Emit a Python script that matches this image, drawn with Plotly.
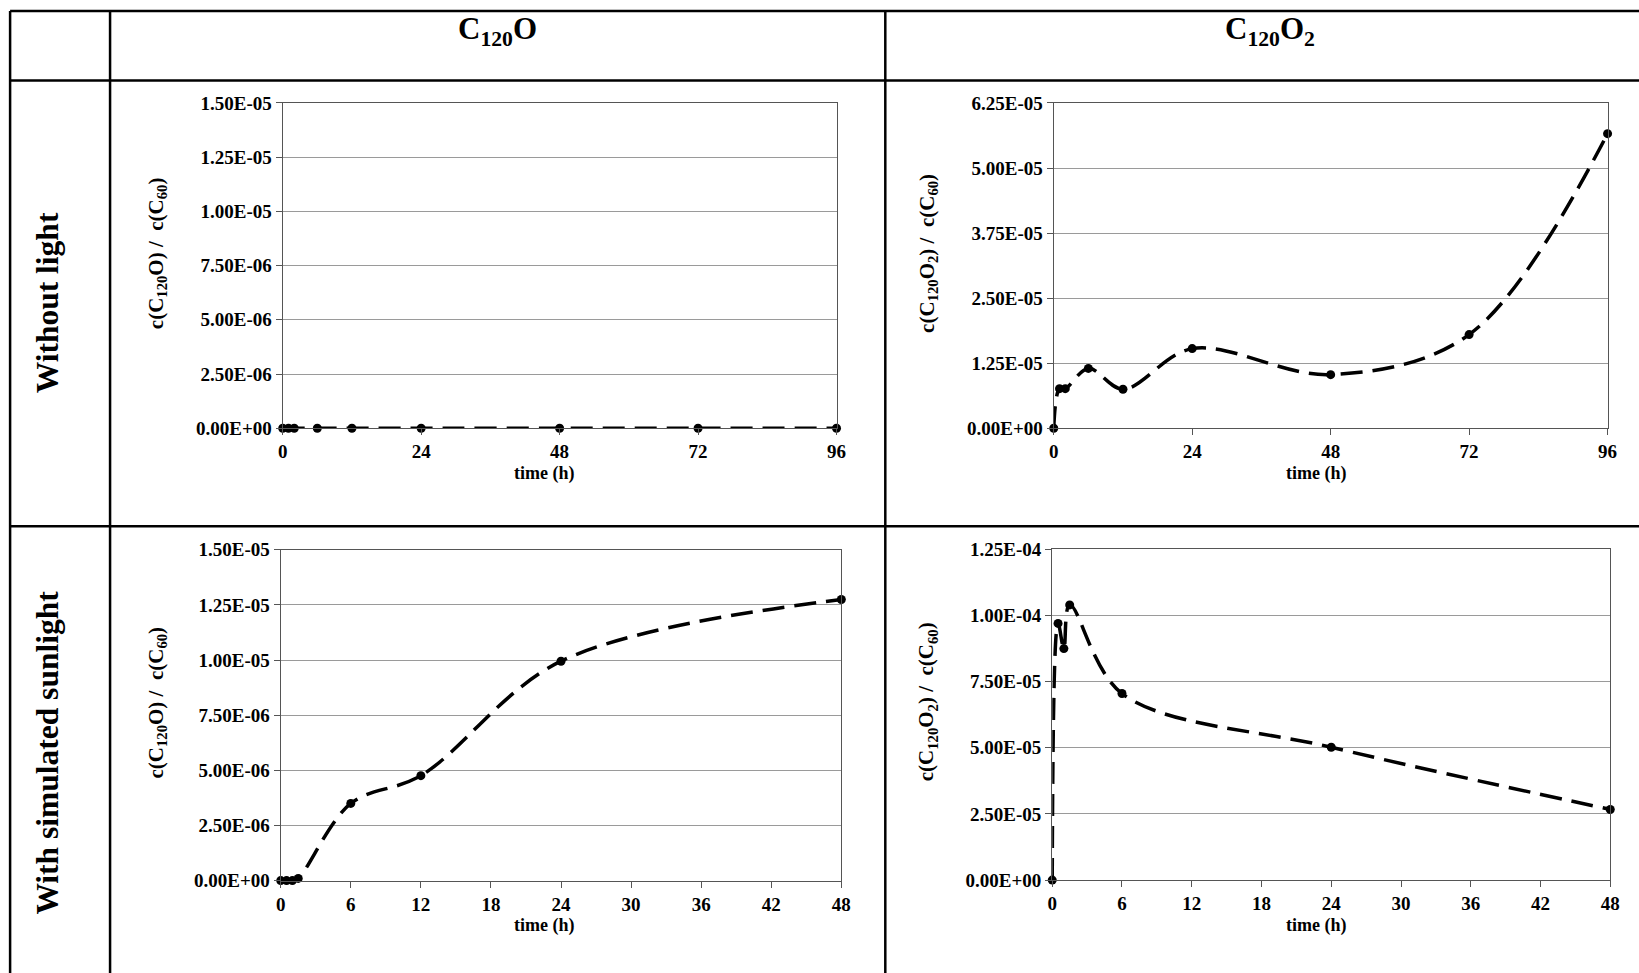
import plotly.graph_objects as go

# Figure size and a calibration of where figure pixels land on the page
# (measured from previous renders): page = A + S * figure_px
W, H = 1660, 990
A_X, S_X = 4.9, 0.9913
A_Y, S_Y = 10.1, 0.978

# ---------------- data ----------------
t_dark_c120o = [0, 1, 2, 6, 12, 24, 48, 72, 96]
y_dark_c120o = [0, 0, 0, 0, 0, 0, 0, 0, 0]

t_dark_c120o2 = [0, 1, 2, 6, 12, 24, 48, 72, 96]
y_dark_c120o2 = [0, 7.6e-6, 7.6e-6, 1.15e-5, 7.5e-6, 1.53e-5, 1.03e-5, 1.8e-5, 5.66e-5]

t_light_c120o = [0, 0.5, 1, 1.5, 6, 12, 24, 48]
y_light_c120o = [0, 0, 0, 1e-7, 3.5e-6, 4.76e-6, 9.95e-6, 1.275e-5]

t_light_c120o2 = [0, 0.5, 1, 1.5, 6, 24, 48]
y_light_c120o2 = [0, 9.7e-5, 8.75e-5, 1.04e-4, 7.05e-5, 5.02e-5, 2.67e-5]

col_headers = ["C<sub>120</sub>O", "C<sub>120</sub>O<sub>2</sub>"]
row_headers = ["Without light", "With simulated sunlight"]
ytitle_c120o = "c(C<sub>120</sub>O) /  c(C<sub>60</sub>)"
ytitle_c120o2 = "c(C<sub>120</sub>O<sub>2</sub>) /  c(C<sub>60</sub>)"
xtitle = "time (h)"

yticks_1 = [0, 2.5e-6, 5e-6, 7.5e-6, 1e-5, 1.25e-5, 1.5e-5]
yticks_2 = [0, 1.25e-5, 2.5e-5, 3.75e-5, 5e-5, 6.25e-5]
yticks_3 = [0, 2.5e-6, 5e-6, 7.5e-6, 1e-5, 1.25e-5, 1.5e-5]
yticks_4 = [0, 2.5e-5, 5e-5, 7.5e-5, 1e-4, 1.25e-4]

FONT = "Liberation Serif"

def px_x(px):
    return ((px - A_X) / S_X) / W

def px_y(py):
    return 1 - ((py - A_Y) / S_Y) / H

# panels: (left, right, top, bottom) in page pixels
panels = [
    dict(box=(282.7, 836.7, 103, 428), t=t_dark_c120o, y=y_dark_c120o, xr=96, xd=24, yt=yticks_1,
         ytitle=ytitle_c120o, ytx=157, yty=253, xtx=544, xty=473),
    dict(box=(1054, 1608, 103, 428), t=t_dark_c120o2, y=y_dark_c120o2, xr=96, xd=24, yt=yticks_2,
         ytitle=ytitle_c120o2, ytx=928, yty=253, xtx=1316, xty=473),
    dict(box=(280.7, 841.5, 549.5, 880), t=t_light_c120o, y=y_light_c120o, xr=48, xd=6, yt=yticks_3,
         ytitle=ytitle_c120o, ytx=157, yty=702, xtx=544, xty=925),
    dict(box=(1052.5, 1610.7, 549, 879.5), t=t_light_c120o2, y=y_light_c120o2, xr=48, xd=6, yt=yticks_4,
         ytitle=ytitle_c120o2, ytx=928, yty=701, xtx=1316, xty=925),
]

fig = go.Figure()
annotations = []
shapes = []

for i, p in enumerate(panels, start=1):
    sfx = "" if i == 1 else str(i)
    l, r, t, b = p["box"]
    fig.add_trace(go.Scatter(
        x=p["t"], y=p["y"], mode="lines+markers",
        line=dict(color="black", width=3.5, dash="22px,10px", shape="spline", smoothing=1),
        marker=dict(color="black", size=9),
        cliponaxis=False, showlegend=False,
        xaxis="x" + sfx, yaxis="y" + sfx,
    ))
    axcommon = dict(
        showline=True, linecolor="#555555", linewidth=1.2, mirror=True,
        ticks="outside", ticklen=6, tickcolor="#555555", tickwidth=1,
        tickfont=dict(family=FONT, size=19, color="black", weight="bold"),
        zeroline=False,
    )
    fig.layout["xaxis" + sfx] = dict(
        domain=[px_x(l), px_x(r)], range=[0, p["xr"]], dtick=p["xd"], tick0=0,
        showgrid=False, anchor="y" + sfx, **axcommon)
    fig.layout["yaxis" + sfx] = dict(
        domain=[px_y(b), px_y(t)], range=[0, p["yt"][-1]],
        tickvals=p["yt"], ticktext=[f"{v:.2E}" for v in p["yt"]],
        showgrid=True, gridcolor="#9a9a9a", gridwidth=1, anchor="x" + sfx, **axcommon)
    annotations.append(dict(
        x=px_x(p["ytx"]), y=px_y(p["yty"]), xref="paper", yref="paper",
        text=p["ytitle"], textangle=-90, showarrow=False,
        xanchor="center", yanchor="middle",
        font=dict(family=FONT, size=21, color="black", weight="bold")))
    annotations.append(dict(
        x=px_x(p["xtx"]), y=px_y(p["xty"]), xref="paper", yref="paper",
        text=xtitle, showarrow=False, xanchor="center", yanchor="middle",
        font=dict(family=FONT, size=18, color="black", weight="bold")))

# column headers
for txt, cx in zip(col_headers, [498, 1270]):
    annotations.append(dict(
        x=px_x(cx), y=px_y(31), xref="paper", yref="paper", text=txt, showarrow=False,
        xanchor="center", yanchor="middle",
        font=dict(family=FONT, size=31, color="black", weight="bold")))

# row headers
for txt, cy in zip(row_headers, [303, 752]):
    annotations.append(dict(
        x=px_x(47), y=px_y(cy), xref="paper", yref="paper", text=txt, showarrow=False,
        textangle=-90, xanchor="center", yanchor="middle",
        font=dict(family=FONT, size=31.5, color="black", weight="bold")))

# table grid lines
lw = 2.5
for yy in [11, 80.5, 526]:
    shapes.append(dict(type="line", xref="paper", yref="paper",
                       x0=px_x(10), x1=1.0, y0=px_y(yy), y1=px_y(yy),
                       line=dict(color="black", width=lw)))
for xx in [10, 110, 885.5]:
    shapes.append(dict(type="line", xref="paper", yref="paper",
                       x0=px_x(xx), x1=px_x(xx), y0=px_y(11), y1=0.0,
                       line=dict(color="black", width=lw)))

fig.update_layout(
    width=W, height=H, margin=dict(l=0, r=0, t=0, b=0),
    paper_bgcolor="white", plot_bgcolor="white",
    annotations=annotations, shapes=shapes,
    font=dict(family=FONT, color="black"),
)

fig.write_html("out.html")
